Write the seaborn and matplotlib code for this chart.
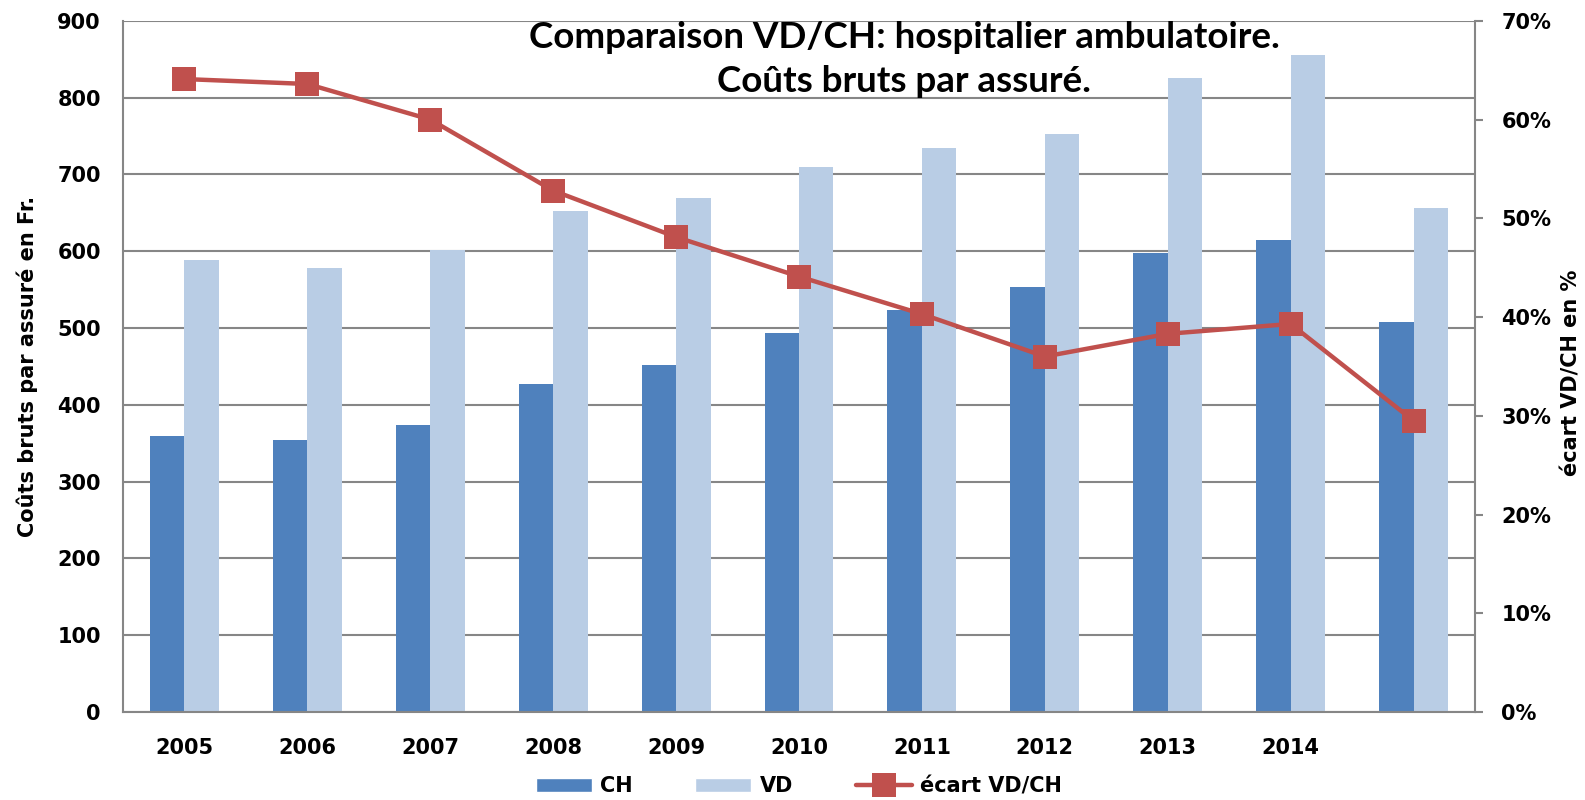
import numpy as np
import pandas as pd
import matplotlib
matplotlib.use("Agg")
import matplotlib.pyplot as plt
from matplotlib.patches import Patch
from matplotlib.lines import Line2D
import seaborn as sns

# données
annees = ["2005", "2006", "2007", "2008", "2009", "2010",
          "2011", "2012", "2013", "2014", "2015"]
etiquettes = ["2005", "2006", "2007", "2008", "2009", "2010",
              "2011", "2012", "2013", "2014", ""]
cout_ch = [359, 354, 374, 427, 452, 493, 523, 553, 598, 614, 508]
cout_vd = [588, 578, 601, 652, 669, 709, 734, 752, 825, 855, 656]
ecart_pct = [64.1, 63.6, 60.0, 52.8, 48.1, 44.1, 40.3, 36.0, 38.3, 39.3, 29.5]

bleu_ch = "#4F81BD"
bleu_vd = "#B9CDE5"
rouge = "#C0504D"
gris = "#868686"

sns.set_style("white")
plt.rcParams["font.family"] = ["DejaVu Sans"]
plt.rcParams["font.weight"] = "bold"
plt.rcParams["text.color"] = "black"
plt.rcParams["axes.labelcolor"] = "black"
plt.rcParams["xtick.labelcolor"] = "black"
plt.rcParams["ytick.labelcolor"] = "black"

df = pd.DataFrame({
    "annee": annees * 2,
    "cout": cout_ch + cout_vd,
    "region": ["CH"] * len(annees) + ["VD"] * len(annees),
})

fig, ax = plt.subplots(figsize=(15.85, 8), dpi=100)
fig.subplots_adjust(left=0.0776, right=0.9306, top=0.974, bottom=0.11)

sns.barplot(data=df, x="annee", y="cout", hue="region",
            palette={"CH": bleu_ch, "VD": bleu_vd}, saturation=1,
            width=0.56, linewidth=0, legend=False, ax=ax)

ax.set_xlim(-0.5, len(annees) - 0.5)
ax.set_ylim(0, 900)
ax.set_yticks(range(0, 901, 100))
ax.set_xticks(range(len(annees)))
ax.set_xticklabels(etiquettes)
ax.tick_params(axis="y", length=0, pad=16, labelsize=15, labelcolor="black")
ax.tick_params(axis="x", length=0, pad=19, labelsize=15, labelcolor="black")
for lab in ax.get_xticklabels() + ax.get_yticklabels():
    lab.set_fontweight("bold")
ax.grid(axis="y", color=gris, linewidth=1.5)
ax.set_axisbelow(True)
ax.set_xlabel("")
ax.set_ylabel("Coûts bruts par assuré en Fr.", fontsize=15, fontweight="bold", color="black")
ax.yaxis.set_label_coords(-0.063, 0.5)
for s in ["left", "bottom"]:
    ax.spines[s].set_color(gris)
    ax.spines[s].set_linewidth(1.5)
ax.spines["top"].set_visible(False)
ax.spines["right"].set_visible(False)

# axe de droite : écart en %
ax2 = ax.twinx()
sns.lineplot(x=np.arange(len(annees)), y=ecart_pct, ax=ax2, color=rouge,
             linewidth=3.2, marker="s", markersize=17, markeredgewidth=0)
ax2.set_ylim(0, 70)
ax2.set_yticks(range(0, 71, 10))
ax2.set_yticklabels([f"{v}%" for v in range(0, 71, 10)])
ax2.tick_params(axis="y", length=6, width=1.5, color=gris, pad=13, labelsize=15,
                labelcolor="black")
for lab in ax2.get_yticklabels():
    lab.set_fontweight("bold")
ax2.set_ylabel("écart VD/CH en %", fontsize=15, fontweight="bold", color="black")
ax2.yaxis.set_label_coords(1.064, 0.49)
ax2.spines["right"].set_color(gris)
ax2.spines["right"].set_linewidth(1.5)
for s in ["left", "top", "bottom"]:
    ax2.spines[s].set_visible(False)

# titre sur deux lignes
fig.text(904 / 1585, 1 - 37 / 800, "Comparaison VD/CH: hospitalier ambulatoire.",
         ha="center", va="center", fontsize=26.5, fontweight="bold",
         family=["Lato", "DejaVu Sans"], color="black", zorder=5)
fig.text(904 / 1585, 1 - 81 / 800, "Coûts bruts par assuré.",
         ha="center", va="center", fontsize=26.5, fontweight="bold",
         family=["Lato", "DejaVu Sans"], color="black", zorder=5)

poignees = [
    Patch(facecolor=bleu_ch, label="CH"),
    Patch(facecolor=bleu_vd, label="VD"),
    Line2D([0], [0], color=rouge, linewidth=3.2, marker="s", markersize=17,
           markeredgewidth=0, label="écart VD/CH"),
]
fig.legend(handles=poignees, loc="center", bbox_to_anchor=(0.504, 0.017),
           ncol=3, frameon=False, handlelength=2.7, labelcolor="black",
           handletextpad=0.4, columnspacing=3.0, prop={"weight": "bold", "size": 15})

fig.savefig("out.png", dpi=100)
